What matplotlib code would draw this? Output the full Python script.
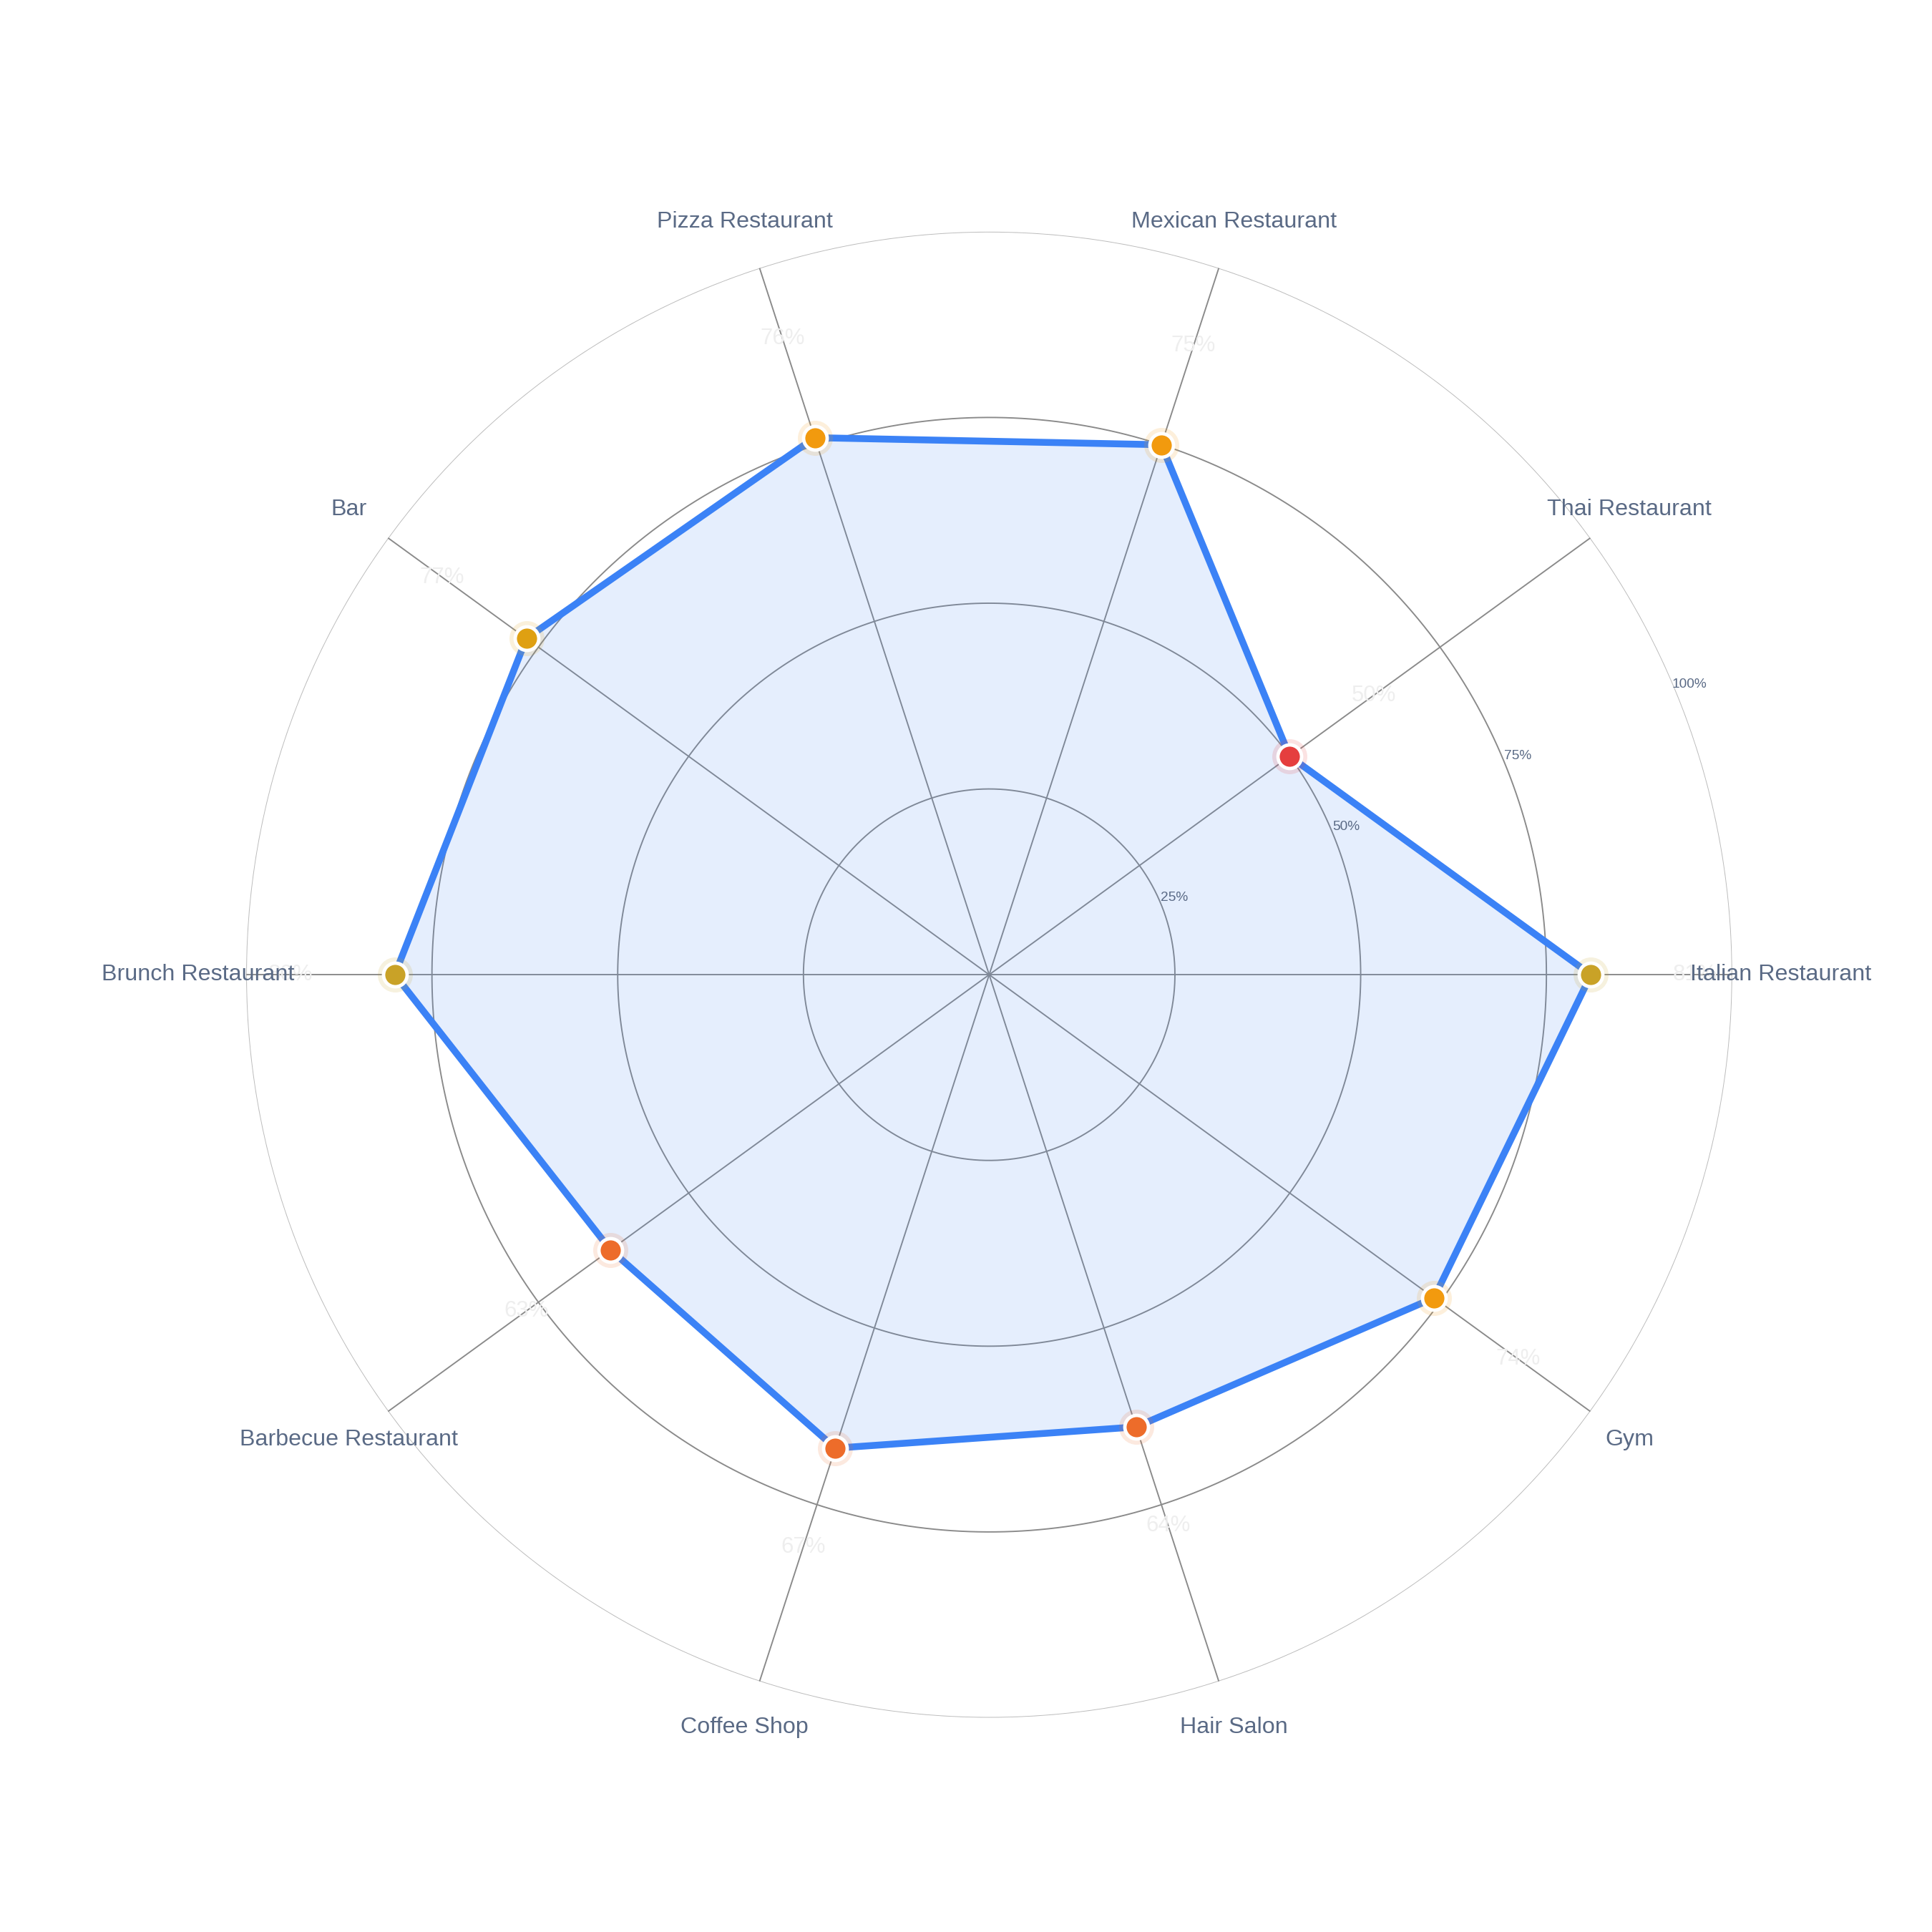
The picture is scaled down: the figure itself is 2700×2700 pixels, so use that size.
import numpy as np
import matplotlib
matplotlib.use("Agg")
import matplotlib.pyplot as plt

categories = ["Italian Restaurant", "Thai Restaurant", "Mexican Restaurant", "Pizza Restaurant", "Bar",
              "Brunch Restaurant", "Barbecue Restaurant", "Coffee Shop", "Hair Salon", "Gym"]
values = [81, 50, 75, 76, 77, 80, 63, 67, 64, 74]
rticks = [25, 50, 75, 100]
rtick_labels = ["25%", "50%", "75%", "100%"]

def color_for(v):
    if v <= 55: return "#e53e3e"
    if v < 70: return "#ed6c2a"
    if v < 77: return "#f29a0e"
    if v < 79: return "#dfa012"
    return "#c9a227"

plt.rcParams['font.family'] = ['Liberation Sans', 'DejaVu Sans']
W = 15.68
fig = plt.figure(figsize=(W, W), dpi=2700 / W)
s = 1206 / 1568
ax = fig.add_axes([0.512 - s/2, 0.4955 - s/2, s, s], projection='polar')
n = len(categories)
theta = np.arange(n) * 2 * np.pi / n
ax.set_ylim(0, 100)
ax.set_xticks(theta)
ax.set_xticklabels([])
ax.set_yticks([])
ax.grid(False)
ax.spines['polar'].set_visible(False)

tt = np.linspace(0, 2*np.pi, 400)
for r in rticks:
    ax.plot(tt, [r]*len(tt), color="#bbbbbb" if r == 100 else "#8a8a8a", lw=0.8, zorder=1)
for t in theta:
    ax.plot([t, t], [0, 100], color="#8a8a8a", lw=0.8, zorder=1)

tc = np.append(theta, theta[0]); vc = values + values[:1]
ax.fill(tc, vc, color="#3b82f6", alpha=0.13, zorder=2)
ax.plot(tc, vc, color="#3b82f6", lw=4, zorder=3)
for t, v in zip(theta, values):
    ax.scatter([t], [v], s=420, color=color_for(v), alpha=0.15, zorder=4, lw=0)
    ax.scatter([t], [v], s=190, color=color_for(v), edgecolor="white", lw=2, zorder=5)
    ax.text(t, v + 14, f"{v}%", color="#eeeeee", fontsize=13, ha="center", va="center", zorder=6)

for t, c in zip(theta, categories):
    ax.text(t, 106.5, c, fontsize=13.5, color="#5a6a85", ha="center", va="center", zorder=7)

ang = np.deg2rad(22.5)
for r, l in zip(rticks, rtick_labels):
    ax.text(ang, r + 2, l, fontsize=8, color="#5a6a85", ha="center", va="center")

fig.savefig("out.png", facecolor="white")
